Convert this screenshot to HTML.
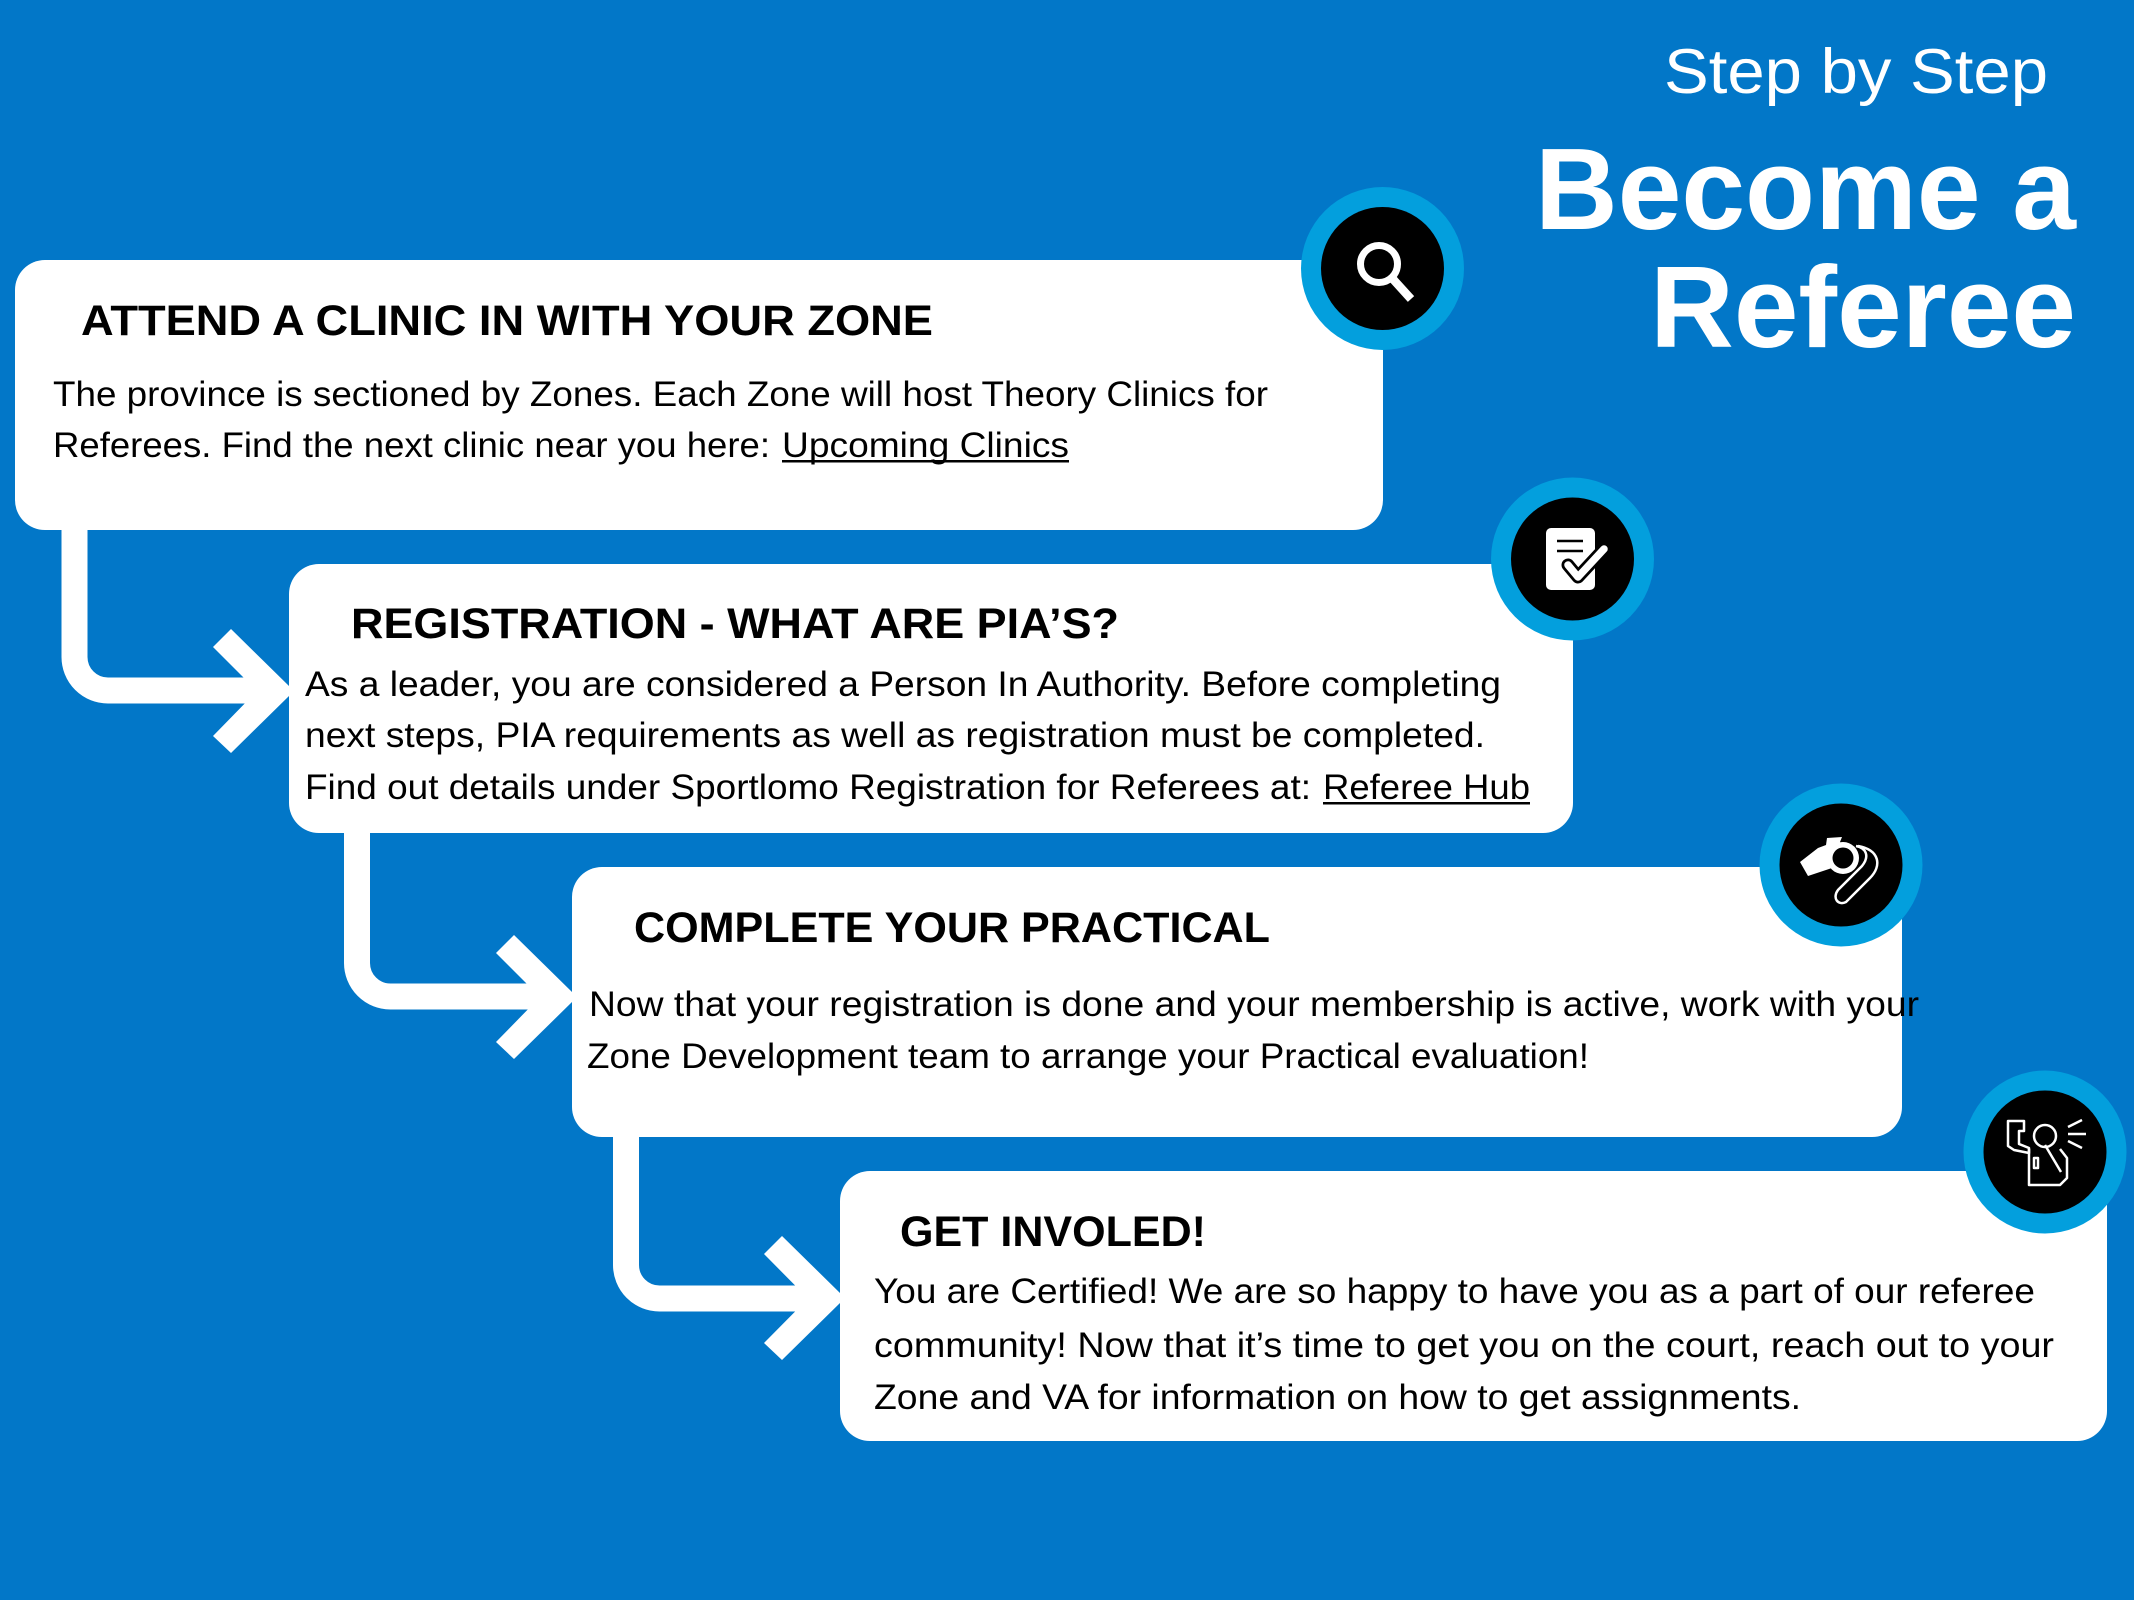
<!DOCTYPE html>
<html>
<head>
<meta charset="utf-8">
<style>
html,body{margin:0;padding:0;background:#0277C8;}
svg{display:block;}
text{font-family:"Liberation Sans",Arial,sans-serif;}
.t{font-weight:bold;font-size:43px;fill:#000;}
.b{font-size:35px;fill:#000;}
</style>
</head>
<body>
<svg width="2134" height="1600" viewBox="0 0 2134 1600" xmlns="http://www.w3.org/2000/svg">
<rect x="0" y="0" width="2134" height="1600" fill="#0277C8"/>

<!-- header -->
<text x="1664" y="93" font-size="63" fill="#fff" textLength="384" lengthAdjust="spacingAndGlyphs">Step by Step</text>
<text x="1535" y="229" font-size="116" font-weight="bold" fill="#fff" textLength="541" lengthAdjust="spacingAndGlyphs">Become a</text>
<text x="1650" y="347" font-size="116" font-weight="bold" fill="#fff" textLength="426" lengthAdjust="spacingAndGlyphs">Referee</text>

<!-- connectors -->
<g fill="none" stroke="#fff" stroke-width="26">
  <path d="M74.5,520 V657 A33.5,33.5 0 0 0 108,690.5 H262"/>
  <path d="M357,825 V963 A33.5,33.5 0 0 0 390.5,996.5 H545"/>
  <path d="M626,1130 V1265 A33.5,33.5 0 0 0 659.5,1298.5 H813"/>
</g>
<g fill="#fff">
  <polygon points="231,629 289,686 289,696 231,753 213,736 257,691 213,647"/>
  <polygon points="514,935 572,992 572,1002 514,1059 496,1042 540,997 496,953"/>
  <polygon points="782,1236 840,1293 840,1303 782,1360 764,1343 808,1298.5 764,1254"/>
</g>

<!-- boxes -->
<g fill="#fff">
  <rect x="15" y="260" width="1368" height="270" rx="30" ry="30"/>
  <rect x="289" y="564" width="1284" height="269" rx="30" ry="30"/>
  <rect x="572" y="867" width="1330" height="270" rx="30" ry="30"/>
  <rect x="840" y="1171" width="1267" height="270" rx="30" ry="30"/>
</g>

<!-- box 1 text -->
<text class="t" x="81" y="335" textLength="852" lengthAdjust="spacingAndGlyphs">ATTEND A CLINIC IN WITH YOUR ZONE</text>
<text class="b" x="53" y="406" textLength="1215" lengthAdjust="spacingAndGlyphs">The province is sectioned by Zones. Each Zone will host Theory Clinics for</text>
<text class="b" x="53" y="457" textLength="717" lengthAdjust="spacingAndGlyphs">Referees. Find the next clinic near you here:</text>
<text class="b" x="782" y="457" textLength="287" lengthAdjust="spacingAndGlyphs">Upcoming Clinics</text>
<rect x="782" y="460" width="287" height="2.5" fill="#000"/>

<!-- box 2 text -->
<text class="t" x="351" y="638" textLength="768" lengthAdjust="spacingAndGlyphs">REGISTRATION - WHAT ARE PIA’S?</text>
<text class="b" x="305" y="696" textLength="1196" lengthAdjust="spacingAndGlyphs">As a leader, you are considered a Person In Authority. Before completing</text>
<text class="b" x="305" y="747" textLength="1180" lengthAdjust="spacingAndGlyphs">next steps, PIA requirements as well as registration must be completed.</text>
<text class="b" x="305" y="799" textLength="1006" lengthAdjust="spacingAndGlyphs">Find out details under Sportlomo Registration for Referees at:</text>
<text class="b" x="1323" y="799" textLength="207" lengthAdjust="spacingAndGlyphs">Referee Hub</text>
<rect x="1323" y="802" width="207" height="2.5" fill="#000"/>

<!-- box 3 text -->
<text class="t" x="634" y="942" textLength="636" lengthAdjust="spacingAndGlyphs">COMPLETE YOUR PRACTICAL</text>
<text class="b" x="589" y="1016" textLength="1330" lengthAdjust="spacingAndGlyphs">Now that your registration is done and your membership is active, work with your</text>
<text class="b" x="587" y="1068" textLength="1002" lengthAdjust="spacingAndGlyphs">Zone Development team to arrange your Practical evaluation!</text>

<!-- box 4 text -->
<text class="t" x="900" y="1246" textLength="306" lengthAdjust="spacingAndGlyphs">GET INVOLED!</text>
<text class="b" x="874" y="1303" textLength="1161" lengthAdjust="spacingAndGlyphs">You are Certified! We are so happy to have you as a part of our referee</text>
<text class="b" x="874" y="1357" textLength="1180" lengthAdjust="spacingAndGlyphs">community! Now that it’s time to get you on the court, reach out to your</text>
<text class="b" x="874" y="1409" textLength="927" lengthAdjust="spacingAndGlyphs">Zone and VA for information on how to get assignments.</text>

<!-- icon circles -->
<g>
  <circle cx="1382.5" cy="268.5" r="81.5" fill="#039FDD"/>
  <circle cx="1382.5" cy="268.5" r="61.5" fill="#000"/>
  <circle cx="1572.5" cy="559" r="81.5" fill="#039FDD"/>
  <circle cx="1572.5" cy="559" r="61.5" fill="#000"/>
  <circle cx="1841" cy="865" r="81.5" fill="#039FDD"/>
  <circle cx="1841" cy="865" r="61.5" fill="#000"/>
  <circle cx="2045" cy="1152" r="81.5" fill="#039FDD"/>
  <circle cx="2045" cy="1152" r="61.5" fill="#000"/>
</g>

<!-- magnifier -->
<g stroke="#fff" fill="none">
  <circle cx="1379" cy="264" r="18.5" stroke-width="7"/>
  <line x1="1392" y1="278" x2="1411" y2="299" stroke-width="8.5"/>
</g>

<!-- document check -->
<g>
  <rect x="1546" y="528" width="49" height="62" rx="5" ry="5" fill="#fff"/>
  <line x1="1557" y1="541" x2="1583" y2="541" stroke="#000" stroke-width="2.5"/>
  <line x1="1557" y1="551" x2="1583" y2="551" stroke="#000" stroke-width="2.5"/>
  <polyline points="1568,565 1578,577 1604,549" fill="none" stroke="#000" stroke-width="13" stroke-linecap="round" stroke-linejoin="round"/>
  <polyline points="1568,565 1578,577 1604,549" fill="none" stroke="#fff" stroke-width="7.5" stroke-linecap="round" stroke-linejoin="round"/>
</g>

<!-- whistle -->
<g>
  <polygon points="1800,862 1808,876 1838,866 1840,842 1842,837 1827,838 1826,845 1818,848" fill="#fff"/>
  <circle cx="1843" cy="858" r="16" fill="#fff"/>
  <circle cx="1843" cy="858" r="10.5" fill="#000"/>
  <path d="M1858,846 C1880,850 1882,866 1870,878 L1846,902 C1838,906 1832,898 1838,890 L1862,866 C1870,856 1866,848 1856,846" fill="none" stroke="#fff" stroke-width="2.5"/>
</g>

<!-- referee -->
<g fill="none" stroke="#fff" stroke-width="2.5" stroke-linejoin="round">
  <path d="M2008,1121 h16 v10 h-5 v13 l10,4 v5 l-15,-3 l-6,-4 z"/>
  <circle cx="2045" cy="1136" r="11"/>
  <path d="M2029,1149 V1185 H2060 L2067,1178 V1158 L2060,1149"/>
  <line x1="2045" y1="1145" x2="2061" y2="1172"/>
  <rect x="2034" y="1158" width="4" height="10"/>
  <line x1="2068" y1="1127" x2="2082" y2="1120"/>
  <line x1="2068" y1="1134" x2="2086" y2="1134"/>
  <line x1="2068" y1="1141" x2="2082" y2="1148"/>
</g>
</svg>
</body>
</html>
